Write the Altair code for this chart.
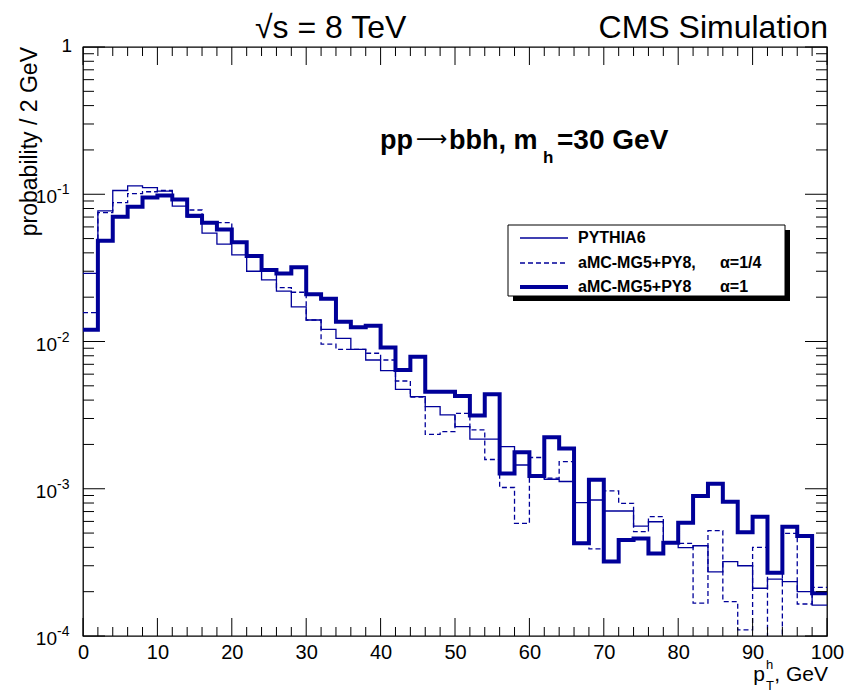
import altair as alt
import pandas as pd

# ---------------- data ----------------
bin_lo = list(range(0, 100, 2))  # 2 GeV bins, 0..100 GeV

pythia6 = [0.029, 0.077, 0.106, 0.114, 0.111, 0.105, 0.083, 0.070, 0.0545, 0.0458,
           0.0387, 0.0300, 0.0262, 0.0220, 0.0172, 0.0140, 0.0121, 0.0105, 0.00885, 0.00749,
           0.00634, 0.00473, 0.00422, 0.00361, 0.00317, 0.00264, 0.00217, 0.00217, 0.00193, 0.00145,
           0.00121, 0.00116, 0.00112, 0.000804, 0.000839, 0.000706, 0.000706, 0.000558, 0.000597, 0.000430,
           0.000398, 0.000410, 0.000273, 0.000320, 0.000300, 0.000211, 0.000243, 0.000234, 0.000200, 0.000162]

amc_quarter = [0.0157, 0.075, 0.0877, 0.101, 0.104, 0.106, 0.092, 0.0782, 0.065, 0.0641,
               0.047, 0.038, 0.030, 0.0232, 0.0216, 0.014, 0.0096, 0.00885, 0.00885, 0.00832,
               0.00749, 0.00539, 0.0042, 0.00234, 0.00244, 0.00325, 0.00251, 0.00158, 0.00102, 0.000582,
               0.00163, 0.00118, 0.00153, 0.00043, 0.00039, 0.000966, 0.000796, 0.000511, 0.000646, 0.00043,
               0.000426, 0.000167, 0.000519, 0.000171, 0.00011, 0.0004, 0.00008, 0.000498, 0.000165, 0.000214]

amc_one = [0.0120, 0.0484, 0.0704, 0.0823, 0.095, 0.098, 0.092, 0.0715, 0.064, 0.0576,
           0.0473, 0.0381, 0.0306, 0.0290, 0.0319, 0.0209, 0.0195, 0.0136, 0.0125, 0.0128,
           0.00912, 0.00640, 0.00789, 0.00456, 0.00456, 0.00427, 0.00314, 0.00438, 0.00127, 0.00177,
           0.00122, 0.00224, 0.00188, 0.000426, 0.00115, 0.000320, 0.000449, 0.000460, 0.000364, 0.000430,
           0.000588, 0.000893, 0.00108, 0.000817, 0.000506, 0.000646, 0.000269, 0.000552, 0.000478, 0.000195]

x_major = list(range(0, 101, 10))
x_minor = [v for v in range(0, 101, 2) if v % 10]
y_major = [1e-4, 1e-3, 1e-2, 1e-1, 1.0]
y_minor = [m * 10.0 ** e for e in range(-4, 0) for m in range(2, 10)]
y_lab_vals = [1e-4, 1e-3, 1e-2, 1e-1]
y_lab_exps = ["-4", "-3", "-2", "-1"]

legend_names = ["PYTHIA6", "aMC-MG5+PY8,", "aMC-MG5+PY8"]
legend_alpha = ["", "\u03b1=1/4", "\u03b1=1"]

# ---------------- styling ----------------
W, H = 744, 589
BLUE = "#000099"
FONT = "Liberation Sans"

xs = alt.Scale(domain=[0, 100], nice=False, zero=False)
ys = alt.Scale(type="log", domain=[1e-4, 1], nice=False)

xaxis = alt.Axis(values=x_major, ticks=False, domain=False, grid=False,
                 labelFontSize=20, labelFont=FONT, labelColor="black",
                 labelPadding=6, labelFlush=False, labelOverlap=False,
                 labelBound=False, title=None, format="d")


def hist_df(vals):
    return pd.DataFrame({"x": bin_lo + [100], "y": vals + [vals[-1]]})


def step(vals, width, dash=None):
    kw = dict(interpolate="step-after", color=BLUE, strokeWidth=width,
              clip=True, strokeJoin="miter", strokeCap="butt")
    if dash:
        kw["strokeDash"] = dash
    return alt.Chart(hist_df(vals)).mark_line(**kw).encode(
        x=alt.X("x:Q", scale=xs, axis=xaxis),
        y=alt.Y("y:Q", scale=ys, axis=None))


layers = []

# histograms
layers.append(step(pythia6, 1.3))
layers.append(step(amc_quarter, 1.3, [5, 3]))
layers.append(step(amc_one, 4))

# ticks (ROOT-style, inside the frame on all four sides)
def xticks(vals, length):
    d = pd.DataFrame({"x": vals})
    bot = alt.Chart(d).mark_rule(color="black", strokeWidth=1).encode(
        x=alt.X("x:Q", scale=xs, axis=xaxis), y=alt.value(H), y2=alt.value(H - length))
    top = alt.Chart(d).mark_rule(color="black", strokeWidth=1).encode(
        x=alt.X("x:Q", scale=xs, axis=xaxis), y=alt.value(0), y2=alt.value(length))
    return [bot, top]


def yticks(vals, length):
    d = pd.DataFrame({"v": vals})
    left = alt.Chart(d).mark_rule(color="black", strokeWidth=1).encode(
        y=alt.Y("v:Q", scale=ys, axis=None), x=alt.value(0), x2=alt.value(length))
    right = alt.Chart(d).mark_rule(color="black", strokeWidth=1).encode(
        y=alt.Y("v:Q", scale=ys, axis=None), x=alt.value(W), x2=alt.value(W - length))
    return [left, right]


layers += xticks(x_major, 18) + xticks(x_minor, 9)
layers += yticks(y_major, 22) + yticks(y_minor, 11)

# y tick labels 10^n
ylab = pd.DataFrame({"v": y_lab_vals, "e": y_lab_exps, "t": ["10"] * len(y_lab_vals)})
layers.append(alt.Chart(ylab).mark_text(align="right", baseline="middle", fontSize=19,
                                        font=FONT, dy=3).encode(
    y=alt.Y("v:Q", scale=ys, axis=None), x=alt.value(-26), text="t:N"))
layers.append(alt.Chart(ylab).mark_text(align="left", baseline="middle", fontSize=14,
                                        font=FONT, dy=-4).encode(
    y=alt.Y("v:Q", scale=ys, axis=None), x=alt.value(-26), text="e:N"))
one = pd.DataFrame({"v": [1.0], "t": ["1"]})
layers.append(alt.Chart(one).mark_text(align="right", baseline="middle", fontSize=19,
                                       font=FONT, dy=-1).encode(
    y=alt.Y("v:Q", scale=ys, axis=None), x=alt.value(-11), text="t:N"))

# free texts
def txt(t, x, y, size, align="left", weight="normal", baseline="alphabetic", angle=0, font=FONT):
    kw = dict(text=t, align=align, fontSize=size, font=font, fontWeight=weight,
              baseline=baseline, color="black")
    if angle:
        kw["angle"] = angle
    return alt.Chart(pd.DataFrame({"a": [0]})).mark_text(**kw).encode(
        x=alt.value(x), y=alt.value(y))


layers.append(txt("\u221as = 8 TeV", 172, -9, 32))
layers.append(txt("CMS Simulation", 745, -9, 32, align="right"))
layers.append(txt("probability / 2 GeV", -46, 0, 23, align="right", angle=270))
# x title p_T^h, GeV
layers.append(txt(", GeV", 745, 634, 21, align="right"))
layers.append(txt("p", 682, 634, 21, align="right"))
layers.append(txt("h", 683, 622, 13))
layers.append(txt("T", 683, 643, 13))
# process label
layers.append(txt("pp", 297, 102, 27, weight="bold"))
layers.append(txt("\u27f6", 333, 99, 22, font="DejaVu Sans"))
layers.append(txt("bbh, m", 366, 102, 27, weight="bold"))
layers.append(txt("h", 460, 116, 17, weight="bold"))
layers.append(txt("=30 GeV", 474, 102, 28, weight="bold"))

# legend box with shadow
def rect(x, x2, y, y2, fill, stroke=None):
    kw = dict(fill=fill)
    if stroke:
        kw.update(stroke=stroke, strokeWidth=1)
    return alt.Chart(pd.DataFrame({"a": [0]})).mark_rect(**kw).encode(
        x=alt.value(x), x2=alt.value(x2), y=alt.value(y), y2=alt.value(y2))


layers.append(rect(430, 707, 183, 254, "black"))
layers.append(rect(425, 702, 178, 249, "white", "black"))
row_y = [191, 216, 240]
samples = [(1.3, None), (1.3, [5, 3]), (4, None)]
for ry, (w, dash), name, al in zip(row_y, samples, legend_names, legend_alpha):
    kw = dict(color=BLUE, strokeWidth=w)
    if dash:
        kw["strokeDash"] = dash
    layers.append(alt.Chart(pd.DataFrame({"a": [0]})).mark_rule(**kw).encode(
        x=alt.value(437), x2=alt.value(485), y=alt.value(ry)))
    layers.append(txt(name, 495, ry, 16, weight="bold", baseline="middle"))
    if al:
        layers.append(txt(al, 637, ry, 16, weight="bold", baseline="middle"))

chart = alt.layer(*layers).properties(
    width=W, height=H,
    padding={"left": 75, "top": 39, "right": 20, "bottom": 56},
    autosize=alt.AutoSizeParams(type="none"),
    background="white",
).configure_view(stroke="black", strokeWidth=1.3)

chart.save("out.html", embed_options={"renderer": "svg", "actions": False})
